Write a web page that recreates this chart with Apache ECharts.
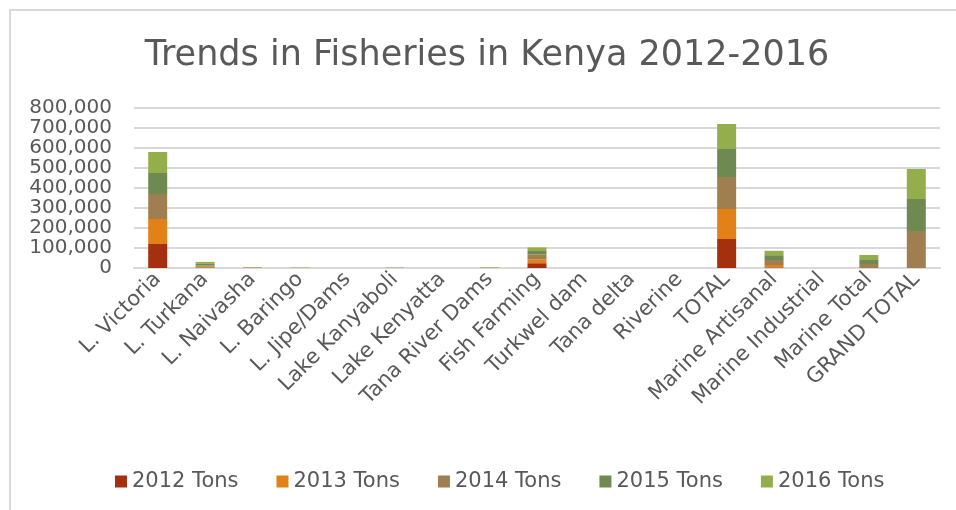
<!DOCTYPE html>
<html>
<head>
<meta charset="utf-8">
<script src="https://cdn.jsdelivr.net/npm/echarts@6/dist/echarts.min.js"></script>
<style>
  html, body { margin: 0; padding: 0; background: #fff; }
  #frame {
    position: absolute; left: 9px; top: 9px; width: 960px; height: 520px;
    border-top: 2px solid #d9d9d9; border-left: 2px solid #d9d9d9;
    box-sizing: border-box;
  }
  #chart { position: absolute; left: 0; top: 0; width: 956px; height: 510px; }
</style>
</head>
<body>
<div id="frame"></div>
<div id="chart"></div>
<script>
const categories = ['L. Victoria', 'L. Turkana', 'L. Naivasha', 'L. Baringo', 'L. Jipe/Dams',
  'Lake Kanyaboli', 'Lake Kenyatta', 'Tana River Dams', 'Fish Farming', 'Turkwel dam',
  'Tana delta', 'Riverine', 'TOTAL', 'Marine Artisanal', 'Marine Industrial',
  'Marine Total', 'GRAND TOTAL']

const tons2012 = [120000, 2500, 800, 400, 100, 400, 0, 600, 24000, 0, 0, 0, 145000, 3000, 0, 0, 0]
const tons2013 = [125000, 4000, 800, 400, 100, 400, 0, 600, 20000, 0, 0, 0, 150000, 12000, 0, 0, 0]
const tons2014 = [125000, 6000, 800, 400, 100, 400, 0, 600, 24000, 0, 0, 0, 160000, 25000, 0, 20000, 185000]
const tons2015 = [105000, 8000, 800, 400, 100, 400, 0, 600, 17000, 0, 0, 0, 140000, 24000, 0, 20000, 160000]
const tons2016 = [105000, 10000, 800, 400, 100, 400, 0, 600, 18000, 0, 0, 0, 125000, 22000, 0, 25000, 150000]

const seriesNames = ['2012 Tons', '2013 Tons', '2014 Tons', '2015 Tons', '2016 Tons']
const seriesData = [tons2012, tons2013, tons2014, tons2015, tons2016]
const colors = ['#a5300f', '#e28117', '#9f7f50', '#6e8a52', '#95ae4c']

const textColor = '#595959'
const font = 'DejaVu Sans'

const chart = echarts.init(document.getElementById('chart'))

chart.setOption({
  animation: false,
  color: colors,
  title: {
    text: 'Trends in Fisheries in Kenya 2012-2016',
    left: 482,
    textAlign: 'center',
    top: 33,
    textStyle: { fontFamily: font, fontSize: 35, fontWeight: 'normal', color: textColor }
  },
  legend: {
    bottom: 13,
    left: 110,
    itemWidth: 12,
    itemHeight: 12,
    itemGap: 38,
    icon: 'rect',
    textStyle: { fontFamily: font, fontSize: 21, color: textColor }
  },
  grid: { left: 134, right: 16, top: 108, bottom: 242 },
  xAxis: {
    type: 'category',
    data: categories,
    axisLine: { lineStyle: { color: '#d9d9d9', width: 2 } },
    axisTick: { show: false },
    axisLabel: {
      rotate: 45, interval: 0, margin: 8,
      fontFamily: font, fontSize: 21, color: textColor
    }
  },
  yAxis: {
    type: 'value',
    min: 0,
    max: 800000,
    interval: 100000,
    axisLine: { show: false },
    axisTick: { show: false },
    axisLabel: {
      margin: 22,
      fontFamily: font, fontSize: 20, color: textColor,
      formatter: v => v.toLocaleString('en-US')
    },
    splitLine: { lineStyle: { color: '#d9d9d9', width: 2 } }
  },
  series: seriesNames.map((name, i) => ({
    name,
    type: 'bar',
    stack: 'tons',
    barWidth: 19,
    data: seriesData[i]
  }))
})
</script>
</body>
</html>
